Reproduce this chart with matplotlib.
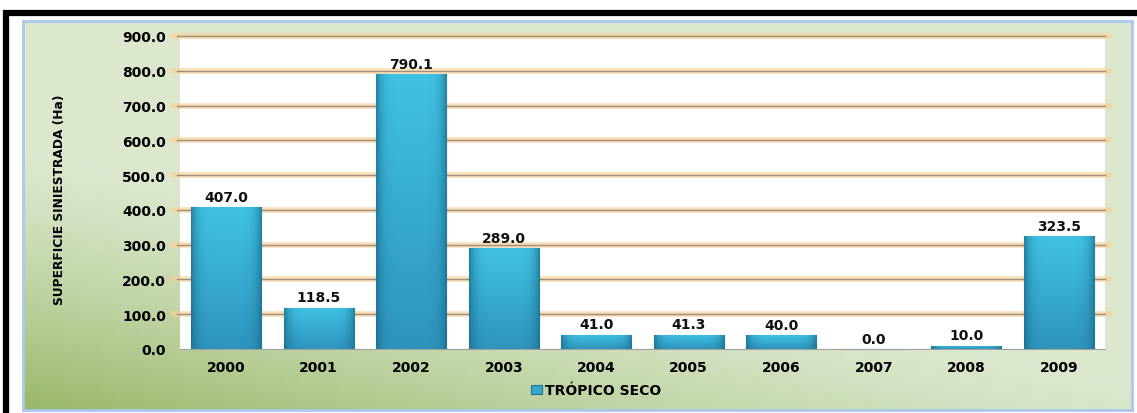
import numpy as np
import matplotlib
matplotlib.use('Agg')
import matplotlib.pyplot as plt
from matplotlib.patches import Rectangle

years = ['2000', '2001', '2002', '2003', '2004', '2005', '2006', '2007', '2008', '2009']
superficie = [407.0, 118.5, 790.1, 289.0, 41.0, 41.3, 40.0, 0.0, 10.0, 323.5]
serie = 'TRÓPICO SECO'
yticks = [0, 100, 200, 300, 400, 500, 600, 700, 800, 900]

W, H = 1137, 414
fig = plt.figure(figsize=(W / 100, H / 100), dpi=100)
fig.patch.set_facecolor('white')

# outer black frame + gradient green panel
fig.patches.append(Rectangle((6 / W, -0.1), 1.1, (H - 14) / H + 0.1, transform=fig.transFigure,
                             facecolor='none', edgecolor='black', linewidth=4.5))
bg = fig.add_axes([23 / W, (H - 411) / H, (1132 - 23) / W, (411 - 22) / H])
u, v = np.meshgrid(np.linspace(0, 1, 200), np.linspace(0, 1, 100))
d = np.clip(1.0 - (u * 0.9 + v * 1.5), 0, 1) ** 1.3
light = np.array([0.86, 0.91, 0.81])
dark = np.array([0.60, 0.72, 0.41])
img = light[None, None, :] * (1 - d[..., None]) + dark[None, None, :] * d[..., None]
bg.imshow(img, origin='lower', aspect='auto', extent=(0, 1, 0, 1))
bg.set_xticks([]); bg.set_yticks([])
for s in bg.spines.values():
    s.set_color('#a9c8ec')
    s.set_linewidth(2)

ax = fig.add_axes([180 / W, (H - 350) / H, (1105 - 180) / W, (350 - 37) / H])
ax.set_facecolor('white')
x = np.arange(len(years))

# glowing gridlines
for t in yticks[1:]:
    ax.axhline(t, xmin=-0.008, xmax=1.005, color='#fbcf95', linewidth=4, alpha=0.7,
               clip_on=False, zorder=1, solid_capstyle='round')
    ax.axhline(t, xmin=-0.003, xmax=1.0, color='#9a8f80', linewidth=1.0, clip_on=False, zorder=1.5)

bars = ax.bar(x, superficie, width=0.76, color='#35a9cf', edgecolor='#1d7594',
              linewidth=0.8, zorder=2, label=serie)

# cylinder-like shading of each bar
xs = np.linspace(-1, 1, 64)
ys = np.linspace(0, 1, 64)
X, Y = np.meshgrid(xs, ys)
c_top = np.array([0.25, 0.76, 0.89])
c_bot = np.array([0.18, 0.58, 0.74])
c_edge = np.array([0.09, 0.40, 0.52])
base = c_bot[None, None, :] * (1 - Y[..., None]) + c_top[None, None, :] * Y[..., None]
e = (np.abs(X) ** 6)[..., None] * 0.7
shade = base * (1 - e) + c_edge[None, None, :] * e
for b in bars:
    h = b.get_height()
    if h <= 0:
        continue
    im = ax.imshow(shade, origin='lower', aspect='auto', zorder=2.1,
                   extent=(b.get_x(), b.get_x() + b.get_width(), 0, h))
    im.set_clip_path(b)

for xi, val in zip(x, superficie):
    ax.text(xi, val + 10, f'{val:.1f}', ha='center', va='bottom',
            fontsize=10, fontweight='bold', color='#111111', zorder=4)

ax.set_xlim(-0.5, len(years) - 0.5)
ax.set_ylim(0, 900)
ax.set_xticks(x)
ax.set_xticklabels(years, fontsize=10, fontweight='bold')
ax.set_yticks(yticks)
ax.set_yticklabels([f'{t:.1f}' for t in yticks], fontsize=10, fontweight='bold')
ax.tick_params(length=0, pad=10)
ax.tick_params(axis='x', pad=8)
for s in ['top', 'right', 'left']:
    ax.spines[s].set_visible(False)
ax.spines['bottom'].set_color('#a0a0a0')
ax.spines['bottom'].set_zorder(3)

fig.text(60 / W, 1 - 200 / H, 'SUPERFICIE SINIESTRADA (Ha)', rotation=90,
         ha='center', va='center', fontsize=8.8, fontweight='bold')

fig.legend(handles=[bars], labels=[serie], loc='center',
           bbox_to_anchor=(596 / W, 1 - 391 / H), frameon=False,
           handlelength=0.8, handleheight=0.6, handletextpad=0.2,
           prop={'size': 10, 'weight': 'bold'})

fig.savefig('out.png', dpi=100)
